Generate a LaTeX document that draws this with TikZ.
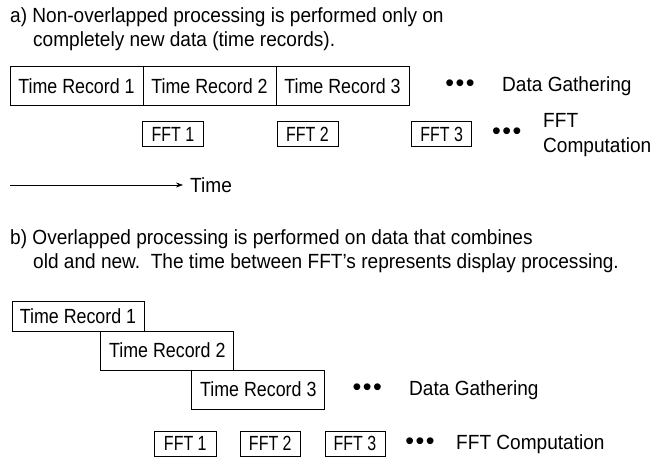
\documentclass[tikz,border=0pt]{standalone}
\usepackage{fontspec}
\setmainfont{Liberation Sans}[FakeStretch=0.93]
\newfontfamily\boxfont{Liberation Sans}[FakeStretch=0.87]
\newfontfamily\fftfont{Liberation Sans}[FakeStretch=0.78]
\newfontfamily\dotfont{Liberation Sans}
\usetikzlibrary{arrows.meta}
\begin{document}
\begin{tikzpicture}[x=1pt,y=-1pt,
  every node/.style={font=\fontsize{20.5}{24.5}\selectfont},
  rec/.style={draw,line width=0.8pt,minimum width=133pt,minimum height=39pt,inner sep=0pt,font=\boxfont\fontsize{20.5}{24.5}\selectfont},
  fft/.style={draw,line width=0.8pt,minimum width=61pt,minimum height=25pt,inner sep=0pt,font=\fftfont\fontsize{20.5}{24.5}\selectfont},
  txt/.style={anchor=base west,inner sep=0pt},
  lbl/.style={anchor=west,inner sep=0pt},
  dots/.style={inner sep=0pt,font=\dotfont\fontsize{25}{25}\selectfont}]
\useasboundingbox (0,0) rectangle (663,464);
% part a
\node[txt] (ta1) at (10,22.7) {a) Non-overlapped processing is performed only on};
\node[txt] (ta2) at (33,46.7) {completely new data (time records).};
\node[rec] (ra1) at (76.5,86) {Time Record 1};
\node[rec] (ra2) at (209.5,86) {Time Record 2};
\node[rec] (ra3) at (342.5,86) {Time Record 3};
\node[dots] (da1) at (460,86) {•\kern1.5pt•\kern1.5pt•};
\node[lbl] (dga) at (502,86) {Data Gathering};
\node[fft] (fa1) at (173,134) {FFT 1};
\node[fft] (fa2) at (307.5,134) {FFT 2};
\node[fft,minimum width=60pt] (fa3) at (441.7,134) {FFT 3};
\node[dots] (da2) at (506.7,134) {•\kern1.5pt•\kern1.5pt•};
\node[lbl,align=left] (fca) at (543,135) {FFT\\Computation};
\coordinate (t0) at (10,185);
\node[lbl] (time) at (190,185) {Time};
\draw[line width=0.6pt,-{Stealth[length=7pt,width=5pt]}] (t0) -- ([xshift=-7pt]time.west);
% part b
\node[txt] (tb1) at (10,244.3) {b) Overlapped processing is performed on data that combines};
\node[txt] (tb2) at (33,268.3) {old and new.\ \ The time between FFT's represents display processing.};
\node[rec,minimum width=132pt,minimum height=29.5pt] (rb1) at (78,316.5) {Time Record 1};
\node[rec] (rb2) at (167.3,350.5) {Time Record 2};
\node[rec] (rb3) at (258.3,389.5) {Time Record 3};
\node[dots] (db1) at (367.3,390) {•\kern1.5pt•\kern1.5pt•};
\node[lbl] (dgb) at (409,390) {Data Gathering};
\node[fft,minimum width=62.7pt] (fb1) at (185.3,443.5) {FFT 1};
\node[fft,minimum width=59.3pt] (fb2) at (270.3,443.5) {FFT 2};
\node[fft,minimum width=60pt] (fb3) at (355,443.5) {FFT 3};
\node[dots] (db2) at (420,444) {•\kern1.5pt•\kern1.5pt•};
\node[lbl] (fcb) at (456,444) {FFT Computation};
\end{tikzpicture}
\end{document}
